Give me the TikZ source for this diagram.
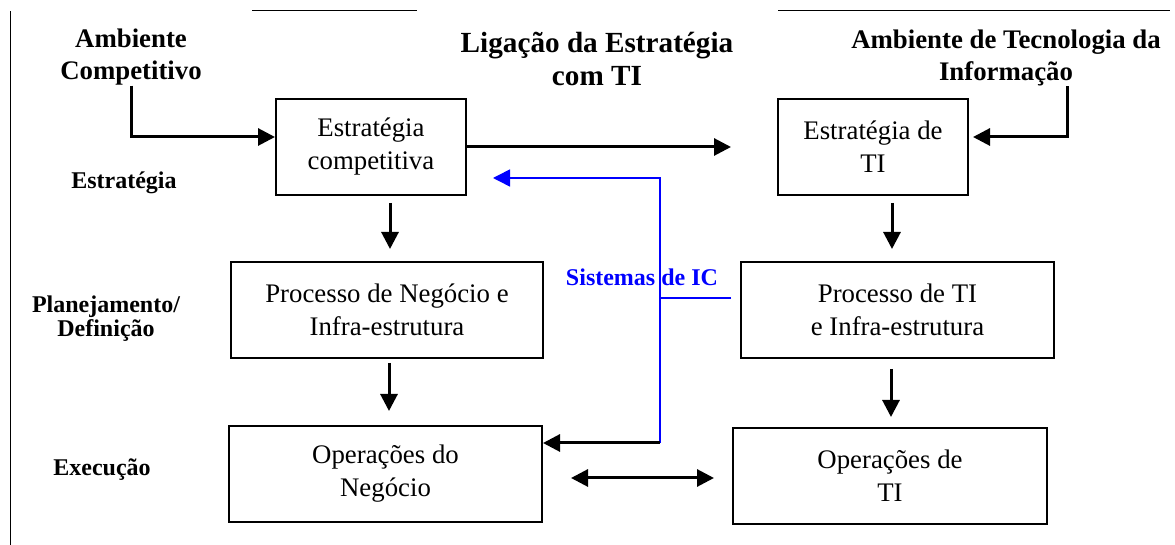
\documentclass[tikz,border=0pt]{standalone}
\usepackage{fontspec}
\setmainfont{Liberation Serif}
\usetikzlibrary{arrows.meta}

\begin{document}
\begin{tikzpicture}[x=0.5pt,y=-0.5pt,>={Triangle[length=8.5pt,width=8.5pt]},
    caixa/.style={draw,line width=1pt,align=center,minimum height=48pt,
      inner sep=0pt,font=\fontsize{13.4}{16.5}\selectfont},
    rotulo/.style={align=center,inner sep=0pt,font=\bfseries\fontsize{13.4}{16}\selectfont},
    nivel/.style={align=center,inner sep=1pt,font=\bfseries\fontsize{12}{10}\selectfont},
    seta/.style={->,line width=1.5pt},
    azul/.style={blue,line width=0.75pt}]
      \useasboundingbox (0,0) rectangle (1175,545);
      % moldura
      \draw [line width=0.5pt] (10,545) -- (10,11);
      \draw [line width=0.5pt] (252,11) -- (417,11);
      \draw [line width=0.5pt] (778,11) -- (1170,11);
      %
      \node [rotulo] (AmbComp) at (131,57) {Ambiente\\Competitivo};
      \node [rotulo,font=\bfseries\fontsize{14.6}{16.5}\selectfont] (Titulo) at (597,59)
      {Ligação da Estratégia\\com TI};
      \node [rotulo] (AmbTI) at (1006,58) {Ambiente de Tecnologia da\\Informação};
      \node [nivel] (NivEstr) at (124,183) {Estratégia};
      \node [nivel] (NivPlan) at (106,319) {Planejamento/\\Definição};
      \node [nivel] (NivExec) at (102,470) {Execução};
      %
      \node [caixa,minimum width=95pt] (EstrComp) at (371,147) {Estratégia\\competitiva};
      \node [caixa,minimum width=95pt] (EstrTI) at (873,147) {Estratégia de\\TI};
      \node [caixa,minimum width=156pt] (ProcNeg) at (387,310)
      {Processo de Negócio e\\Infra-estrutura};
      \node [caixa,minimum width=156.5pt] (ProcTI) at (897.5,310)
      {Processo de TI\\e Infra-estrutura};
      \node [caixa,minimum width=156.5pt] (OperNeg) at (385.5,474) {Operações do\\Negócio};
      \node [caixa,minimum width=157pt] (OperTI) at (890,476) {Operações de\\TI};
      %
      \draw [seta] (AmbComp.south) |- ([yshift=5pt]EstrComp.west);
      \draw [seta] (EstrComp.east) -- ([xshift=-23pt]EstrTI.west);
      \draw [seta] ([xshift=30.5pt]AmbTI.south) |- ([xshift=2pt,yshift=5pt]EstrTI.east);
      \draw [seta] ([xshift=9.5pt,yshift=-3.5pt]EstrComp.south) --
      ([xshift=1.5pt,yshift=6pt]ProcNeg.north);
      \draw [seta] ([xshift=1pt,yshift=-2pt]ProcNeg.south) --
      ([xshift=1.75pt,yshift=7pt]OperNeg.north);
      \draw [seta] ([xshift=9.5pt,yshift=-3.5pt]EstrTI.south) --
      ([xshift=-2.75pt,yshift=6pt]ProcTI.north);
      \draw [seta] ([xshift=-3.25pt,yshift=-5pt]ProcTI.south) --
      ([xshift=0.5pt,yshift=5pt]OperTI.north);
      \draw [<->,line width=1.5pt] ([xshift=14pt,yshift=-2pt]OperNeg.east) --
      ([xshift=-9pt,yshift=-1pt]OperTI.west);
      %
      % sistemas de IC
      \coordinate (Junta) at (660,298);
      \coordinate (Canto) at (660,443);
      \node [text=blue,inner sep=1pt,font=\bfseries\fontsize{12}{14}\selectfont] (SisIC)
      at (642,277) {Sistemas de IC};
      \draw [azul] ([xshift=-4.5pt,yshift=6pt]ProcTI.west) -- (Junta);
      \draw [azul,->] (Junta) |- ([xshift=13pt,yshift=-15.5pt]EstrComp.east);
      \draw [azul] (Junta) -- (Canto);
      \draw [seta] (Canto) -- ([yshift=15.5pt]OperNeg.east);
      %
    \end{tikzpicture}
\end{document}
